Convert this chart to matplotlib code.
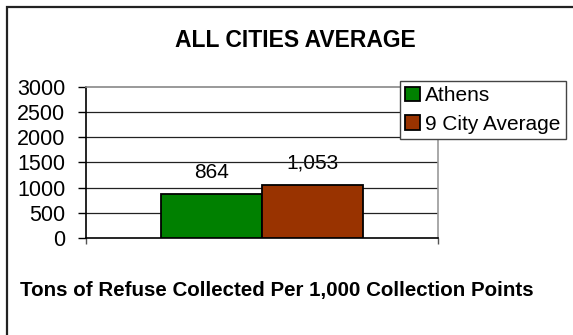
import matplotlib
matplotlib.use("Agg")
import matplotlib.pyplot as plt
from matplotlib.patches import Rectangle

plt.rcParams['font.family'] = ['Liberation Sans', 'DejaVu Sans']

# data
series = ["Athens", "9 City Average"]
values = [864, 1053]
value_labels = ["864", "1,053"]
colors = ["#008000", "#993300"]
yticks = [0, 500, 1000, 1500, 2000, 2500, 3000]

fig = plt.figure(figsize=(5.73, 3.35), dpi=100)

# outer chart border (runs off the right and bottom edge like the reference)
fig.patches.append(Rectangle((6.5 / 573, -0.05), 1.2, 1 - 6.5 / 335 + 0.05,
                             transform=fig.transFigure, fill=False,
                             edgecolor="#222222", linewidth=1.6))

ax = fig.add_axes([86 / 573, 1 - 238 / 335, (438 - 86) / 573, (238 - 86.5) / 335])

bw = 0.287
offsets = [-bw / 2, bw / 2]
for name, v, c, off in zip(series, values, colors, offsets):
    ax.bar(off, v, width=bw, color=c, edgecolor="black", linewidth=1.3,
           label=name, zorder=3)

for off, v, txt in zip(offsets, values, value_labels):
    ax.annotate(txt, (off, v), xytext=(0, 22), textcoords="offset pixels",
                ha="center", va="center", fontsize=15, zorder=1)

ax.set_xlim(-0.5, 0.5)
ax.set_ylim(0, 3000)
ax.set_yticks(yticks)
ax.set_yticklabels([str(t) for t in yticks], fontsize=15.5)
ax.set_xticks([-0.5, 0.5])
ax.set_xticklabels(["", ""])
ax.tick_params(axis="y", direction="out", length=5.8, width=1.0, pad=9, color="black")
ax.tick_params(axis="x", direction="out", length=4.3, width=1.0, color="#555555")

for t in yticks[1:-1]:
    ax.axhline(t, color="#222222", linewidth=0.9, zorder=2)

ax.spines["left"].set_color("black")
ax.spines["left"].set_linewidth(1.2)
ax.spines["bottom"].set_color("black")
ax.spines["bottom"].set_linewidth(1.2)
ax.spines["top"].set_color("#888888")
ax.spines["top"].set_linewidth(1.2)
ax.spines["right"].set_color("#999999")
ax.spines["right"].set_linewidth(1.2)

leg = ax.legend(loc="upper left", bbox_to_anchor=(400 / 573, 1 - 81 / 335),
                bbox_transform=fig.transFigure, fontsize=15, frameon=True,
                fancybox=False, shadow=False, borderpad=0.25, labelspacing=0.45,
                handlelength=0.7, handleheight=0.7, handletextpad=0.25,
                borderaxespad=0)
leg.get_frame().set_edgecolor("#444444")
leg.get_frame().set_linewidth(1.0)
leg.get_frame().set_alpha(1)

fig.text(295 / 573, 1 - 47.3 / 335, "ALL CITIES AVERAGE", ha="center",
         va="baseline", fontsize=16.5, fontweight="bold")
fig.text(20 / 573, 1 - 296 / 335,
         "Tons of Refuse Collected Per 1,000 Collection Points",
         ha="left", va="baseline", fontsize=14.8, fontweight="bold")

fig.savefig("out.png", dpi=100)
